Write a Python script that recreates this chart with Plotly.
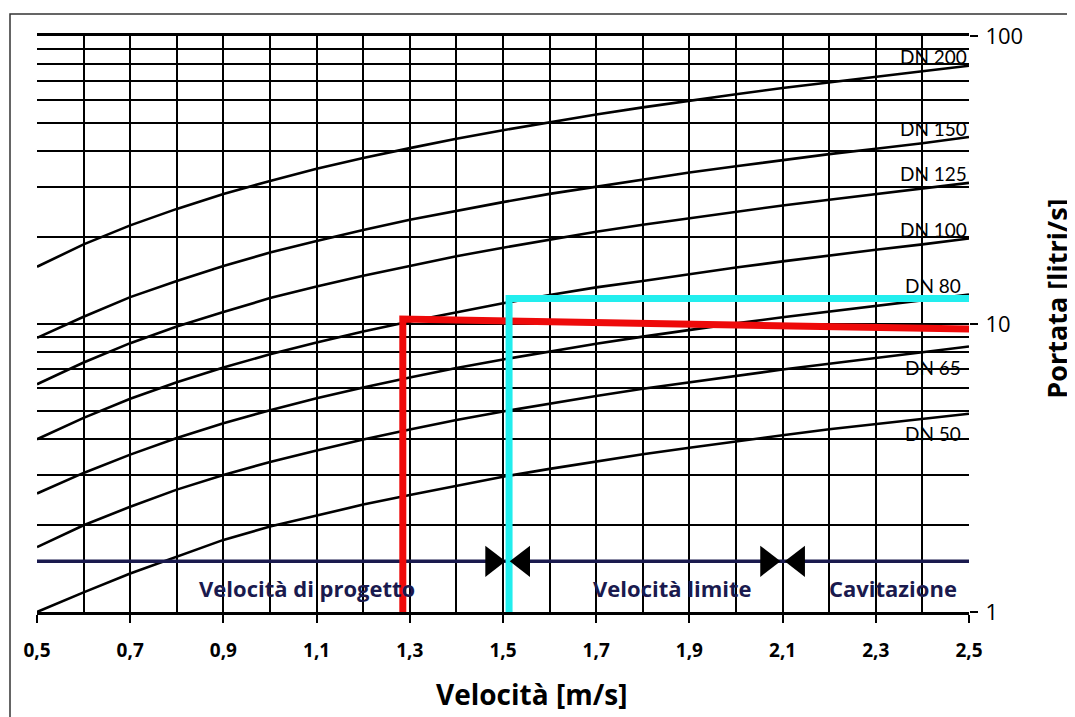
import numpy as np
import plotly.graph_objects as go

# ---------------- data ----------------
velocity = [0.5, 0.6, 0.7, 0.8, 0.9, 1.0, 1.1, 1.2, 1.3, 1.4, 1.5,
            1.6, 1.7, 1.8, 1.9, 2.0, 2.1, 2.2, 2.3, 2.4, 2.5]

dn50 = [1.00, 1.17, 1.36, 1.56, 1.78, 1.98, 2.16, 2.36, 2.55, 2.75, 2.95,
        3.14, 3.33, 3.53, 3.72, 3.92, 4.11, 4.31, 4.50, 4.70, 4.88]
dn65 = [1.68, 2.00, 2.32, 2.66, 2.99, 3.32, 3.64, 3.97, 4.30, 4.64, 4.97,
        5.30, 5.62, 5.96, 6.28, 6.62, 6.95, 7.28, 7.62, 7.96, 8.35]
dn80 = [2.58, 3.04, 3.52, 4.02, 4.52, 5.02, 5.52, 6.02, 6.52, 7.03, 7.53,
        8.03, 8.54, 9.04, 9.55, 10.05, 10.55, 11.05, 11.55, 12.05, 12.65]
dn100 = [3.98, 4.72, 5.50, 6.28, 7.06, 7.85, 8.63, 9.42, 10.2, 11.0, 11.8,
         12.6, 13.4, 14.1, 14.9, 15.7, 16.5, 17.3, 18.1, 18.9, 19.8]
dn125 = [6.18, 7.35, 8.58, 9.80, 11.0, 12.3, 13.5, 14.7, 15.9, 17.2, 18.4,
         19.6, 20.9, 22.1, 23.3, 24.5, 25.8, 27.0, 28.2, 29.5, 30.9]
dn150 = [8.95, 10.6, 12.4, 14.1, 15.9, 17.7, 19.4, 21.2, 23.0, 24.7, 26.5,
         28.3, 30.0, 31.8, 33.6, 35.3, 37.1, 38.9, 40.6, 42.4, 44.6]
dn200 = [15.8, 18.9, 22.0, 25.1, 28.3, 31.4, 34.6, 37.7, 40.8, 44.0, 47.1,
         50.3, 53.4, 56.5, 59.7, 62.8, 66.0, 69.1, 72.3, 75.4, 78.8]

dn_names = ["DN 200", "DN 150", "DN 125", "DN 100", "DN 80", "DN 65", "DN 50"]
dn_series = [dn200, dn150, dn125, dn100, dn80, dn65, dn50]

# design point (red) and limit point (cyan)
design_v = [1.285, 1.285, 2.51]
design_q = [1.0, 10.4, 9.6]
limit_v = [1.513, 1.513, 2.51]
limit_q = [1.0, 12.25, 12.25]

# velocity regions
region_level = 1.5
region_bounds = [1.51, 2.1]
region_labels = ["Velocità di progetto", "Velocità limite", "Cavitazione"]

x_tick_vals = [0.5, 0.7, 0.9, 1.1, 1.3, 1.5, 1.7, 1.9, 2.1, 2.3, 2.5]
x_tick_text = ["0,5", "0,7", "0,9", "1,1", "1,3", "1,5", "1,7", "1,9", "2,1", "2,3", "2,5"]
x_minor_vals = [0.6, 0.8, 1.0, 1.2, 1.4, 1.6, 1.8, 2.0, 2.2, 2.4]
y_tick_vals = [1, 10, 100]
y_tick_text = ["1", "10", "100"]
y_minor_vals = [2, 3, 4, 5, 6, 7, 8, 9, 20, 30, 40, 50, 60, 70, 80, 90]

# ---------------- layout constants ----------------
OFF = 8                      # page body margin
W, H = 1075 - OFF, 717 - OFF
ML, MT = 37 - OFF, 33 - OFF
PW, PH = 932, 579
MR = W - ML - PW
MB = H - MT - PH
XR = [0.5, 2.5]
px_per_x = PW / (XR[1] - XR[0])


def px_x(sx):
    """screen x pixel -> paper x"""
    return (sx - OFF - ML) / PW


def px_y(sy):
    """screen y pixel -> paper y"""
    return (MT + PH - (sy - OFF)) / PH


FONT = "Lato"
BOLD = "Open Sans"
NAVY = "#1a1a4e"
GRIDW = 2.4

fig = go.Figure()

for name, q in zip(dn_names, dn_series):
    fig.add_trace(go.Scatter(x=velocity, y=q, mode="lines", name=name,
                             line=dict(color="black", width=2.6),
                             hoverinfo="skip"))

# region line
fig.add_trace(go.Scatter(x=[XR[0], XR[1]], y=[region_level, region_level],
                         mode="lines", line=dict(color=NAVY, width=3.4),
                         hoverinfo="skip"))

# red / cyan guide lines
fig.add_trace(go.Scatter(x=design_v, y=design_q, mode="lines",
                         line=dict(color="#ee0a0a", width=7), hoverinfo="skip"))
fig.add_trace(go.Scatter(x=limit_v, y=limit_q, mode="lines",
                         line=dict(color="#22eeee", width=7), hoverinfo="skip"))

# bow-tie arrows at the region boundaries
msize = 27
tip_off = (msize / 2) * 2 / np.sqrt(3) / px_per_x
fig.add_trace(go.Scatter(x=[b - tip_off for b in region_bounds],
                         y=[region_level] * len(region_bounds), mode="markers",
                         marker=dict(symbol="triangle-right", size=msize, color="black",
                                     line=dict(width=0)),
                         hoverinfo="skip", cliponaxis=False))
fig.add_trace(go.Scatter(x=[b + tip_off for b in region_bounds],
                         y=[region_level] * len(region_bounds), mode="markers",
                         marker=dict(symbol="triangle-left", size=msize, color="black",
                                     line=dict(width=0)),
                         hoverinfo="skip", cliponaxis=False))

annotations = []
# DN labels near the right edge
idx = velocity.index(2.4)
for name, q in zip(dn_names, dn_series):
    above = name not in ("DN 65", "DN 50")
    annotations.append(dict(x=velocity[idx], y=np.log10(q[idx]), xref="x", yref="y",
                            text=name, showarrow=False, xanchor="center",
                            xshift=11, yshift=15 if above else -15,
                            font=dict(family=FONT, size=19, color="black")))

# region labels
region_label_x = [1.08, 1.863, 2.337]
for lab, xv in zip(region_labels, region_label_x):
    annotations.append(dict(x=xv, y=np.log10(region_level), xref="x", yref="y",
                            text=lab, showarrow=False, yshift=-27,
                            xanchor="center", yanchor="middle",
                            font=dict(family=BOLD, size=22, color=NAVY, weight="bold")))

# axis titles
annotations.append(dict(x=px_x(531), y=px_y(694), xref="paper", yref="paper",
                        xanchor="center", yanchor="middle",
                        text="Velocità [m/s]", showarrow=False,
                        font=dict(family=BOLD, size=28, color="black", weight="bold")))
annotations.append(dict(x=px_x(1057), y=px_y(297), xref="paper", yref="paper",
                        xanchor="center", yanchor="middle",
                        text="Portata [litri/s]", showarrow=False, textangle=-90,
                        font=dict(family=BOLD, size=27, color="black", weight="bold")))

# outer frame
shapes = [dict(type="rect", xref="paper", yref="paper",
               x0=px_x(10), x1=px_x(1085),
               y0=px_y(730), y1=px_y(11),
               line=dict(color="#333333", width=1.5), layer="below")]

fig.update_layout(
    width=W, height=H,
    margin=dict(l=ML, r=MR, t=MT, b=MB, pad=0),
    plot_bgcolor="white", paper_bgcolor="white",
    showlegend=False,
    annotations=annotations, shapes=shapes,
    xaxis=dict(range=XR, tickvals=x_tick_vals, ticktext=x_tick_text,
               ticks="outside", ticklen=8, tickwidth=2, tickcolor="black",
               ticklabelstandoff=11,
               tickfont=dict(family=BOLD, size=19, color="black", weight="bold"),
               showgrid=True, gridcolor="black", gridwidth=GRIDW,
               minor=dict(tickvals=x_minor_vals, showgrid=True, gridcolor="black",
                          gridwidth=GRIDW, ticks=""),
               showline=True, mirror=True, linecolor="black", linewidth=2.5,
               zeroline=False),
    yaxis=dict(type="log", range=[0, 2], side="right",
               tickvals=y_tick_vals, ticktext=y_tick_text,
               ticks="outside", ticklen=8, tickwidth=1.5, tickcolor="black",
               ticklabelstandoff=3,
               tickfont=dict(family=BOLD, size=22, color="black"),
               showgrid=True, gridcolor="black", gridwidth=GRIDW,
               minor=dict(tickvals=y_minor_vals, showgrid=True, gridcolor="black",
                          gridwidth=GRIDW, ticks=""),
               showline=False, zeroline=False),
)

fig.write_html("out.html")
